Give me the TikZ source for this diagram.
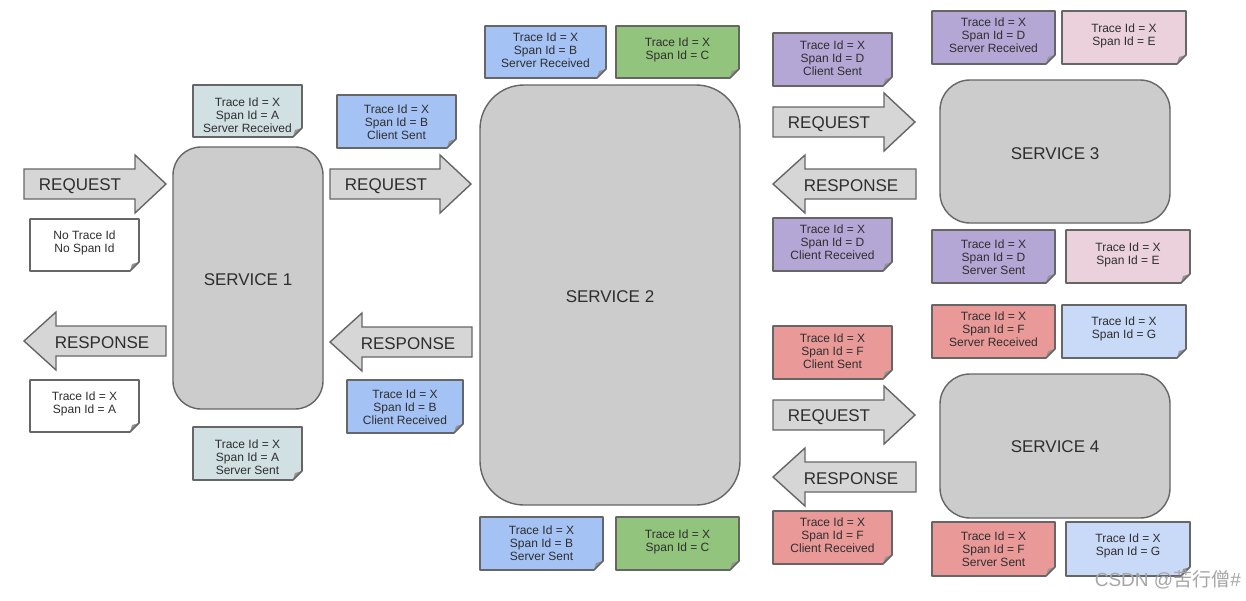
\documentclass[tikz,border=0pt]{standalone}
\usepackage{fontspec}
\setmainfont{Liberation Sans}
\newfontfamily\cjkfont{Noto Sans CJK SC}
\definecolor{cA}{HTML}{D0E0E3}
\definecolor{cB}{HTML}{A4C2F4}
\definecolor{cC}{HTML}{93C47D}
\definecolor{cD}{HTML}{B4A7D6}
\definecolor{cE}{HTML}{EAD1DC}
\definecolor{cF}{HTML}{EA9999}
\definecolor{cG}{HTML}{C9DAF8}
\definecolor{cW}{HTML}{FFFFFF}
\definecolor{svcfill}{HTML}{CCCCCC}
\definecolor{arrfill}{HTML}{D6D6D6}
\definecolor{edge}{HTML}{666666}
\definecolor{ink}{HTML}{2E2E2E}
\tikzset{
  notetext/.style={font=\fontsize{12}{13}\selectfont, text=ink, align=center, inner sep=0pt},
  noteedge/.style={draw=edge, line width=1.6pt, line join=round},
  svc/.style={draw=edge, fill=svcfill, line width=1.4pt},
  svctext/.style={font=\fontsize{17}{20}\selectfont, text=ink, inner sep=0pt},
  arr/.style={draw=edge, fill=arrfill, line width=1.4pt, line join=miter},
  arrtext/.style={font=\fontsize{17}{20}\selectfont, text=ink, inner sep=0pt},
}
% \notebox{name}{x1}{y1}{x2}{y2}{colour}{text}{yoffset}
\newcommand\notebox[8]{%
  \fill[#6] (#2,#3) -- (#4,#3) -- (#4,#5-9) -- (#4-9,#5) -- (#2,#5) -- cycle;
  \fill[edge!70] (#4,#5-9) -- (#4-9,#5) -- (#4-7,#5-7) -- cycle;
  \draw[noteedge] (#2,#3) -- (#4,#3) -- (#4,#5-9) -- (#4-9,#5) -- (#2,#5) -- cycle;
  \node[notetext] (#1) at ({(#2+#4)/2},{(#3+#5)/2+#8+2}) {#7};%
}
% \arrowR{name}{x0}{xtip}{ymid}{text}
\newcommand\arrowR[5]{%
  \draw[arr] (#2,#4-15) -- (#3-31,#4-15) -- (#3-31,#4-29) -- (#3,#4) -- (#3-31,#4+29) -- (#3-31,#4+15) -- (#2,#4+15) -- cycle;
  \node[arrtext] (#1) at (#2+56,#4+2) {#5};%
}
% \arrowL{name}{xtip}{x1}{ymid}{text}
\newcommand\arrowL[5]{%
  \draw[arr] (#3,#4-15) -- (#2+32,#4-15) -- (#2+32,#4-29) -- (#2,#4) -- (#2+32,#4+29) -- (#2+32,#4+15) -- (#3,#4+15) -- cycle;
  \node[arrtext] (#1) at (#2+78,#4+2) {#5};%
}
\begin{document}
\begin{tikzpicture}[x=1pt,y=-1pt]
\useasboundingbox (0,0) rectangle (1246,600);
\fill[white] (0,0) rectangle (1246,600);

% services
\draw[svc, rounded corners=28pt] (173,147) rectangle (323,409);
\node[svctext] (s1) at (248,280) {SERVICE 1};
\draw[svc, rounded corners=44pt] (480,85) rectangle (740,505);
\node[svctext] (s2) at (610,297) {SERVICE 2};
\draw[svc, rounded corners=30pt] (940,80) rectangle (1170,223);
\node[svctext] (s3) at (1055,154) {SERVICE 3};
\draw[svc, rounded corners=30pt] (940,374) rectangle (1170,518);
\node[svctext] (s4) at (1055,447) {SERVICE 4};

% block arrows
\arrowR{req1}{24}{166}{184}{REQUEST}
\arrowL{resp1}{24}{166}{341}{RESPONSE}
\arrowR{req2}{330}{471}{184}{REQUEST}
\arrowL{resp2}{330}{472}{342}{RESPONSE}
\arrowR{req3}{773}{915}{122}{REQUEST}
\arrowL{resp3}{773}{916}{184}{RESPONSE}
\arrowR{req4}{773}{915}{415}{REQUEST}
\arrowL{resp4}{773}{916}{477}{RESPONSE}

% notes: service 1
\notebox{nASR}{193}{85}{302}{137}{cA}{Trace Id = X\\Span Id = A\\Server Received}{2}
\notebox{nNo}{30}{219}{139}{271}{cW}{No Trace Id\\No Span Id}{-4}
\notebox{nAres}{30}{380}{139}{432}{cW}{Trace Id = X\\Span Id = A}{-4}
\notebox{nASS}{193}{427}{302}{480}{cA}{Trace Id = X\\Span Id = A\\Server Sent}{2}
% service 2
\notebox{nBCS}{337}{95}{456}{148}{cB}{Trace Id = X\\Span Id = B\\Client Sent}{-1}
\notebox{nBCR}{347}{380}{463}{433}{cB}{Trace Id = X\\Span Id = B\\Client Received}{-1}
\notebox{nBSR}{485}{26}{606}{78}{cB}{Trace Id = X\\Span Id = B\\Server Received}{-4}
\notebox{nCt}{616}{26}{739}{78}{cC}{Trace Id = X\\Span Id = C}{-4}
\notebox{nBSS}{480}{517}{603}{570}{cB}{Trace Id = X\\Span Id = B\\Server Sent}{-2}
\notebox{nCb}{616}{517}{739}{570}{cC}{Trace Id = X\\Span Id = C}{-4}
% service 3
\notebox{nDCS}{773}{33}{892}{86}{cD}{Trace Id = X\\Span Id = D\\Client Sent}{-3}
\notebox{nDSR}{932}{11}{1055}{64}{cD}{Trace Id = X\\Span Id = D\\Server Received}{-4}
\notebox{nEt}{1062}{11}{1186}{64}{cE}{Trace Id = X\\Span Id = E}{-4}
\notebox{nDCR}{773}{218}{892}{271}{cD}{Trace Id = X\\Span Id = D\\Client Received}{-4}
\notebox{nDSS}{932}{230}{1055}{283}{cD}{Trace Id = X\\Span Id = D\\Server Sent}{-1}
\notebox{nEb}{1066}{230}{1190}{283}{cE}{Trace Id = X\\Span Id = E}{-4}
% service 4
\notebox{nFSR}{932}{305}{1055}{358}{cF}{Trace Id = X\\Span Id = F\\Server Received}{-4}
\notebox{nGt}{1062}{305}{1186}{358}{cG}{Trace Id = X\\Span Id = G}{-5}
\notebox{nFCS}{773}{326}{892}{379}{cF}{Trace Id = X\\Span Id = F\\Client Sent}{-3}
\notebox{nFCR}{773}{511}{892}{564}{cF}{Trace Id = X\\Span Id = F\\Client Received}{-4}
\notebox{nFSS}{932}{522}{1055}{576}{cF}{Trace Id = X\\Span Id = F\\Server Sent}{-2}
\notebox{nGb}{1066}{522}{1190}{576}{cG}{Trace Id = X\\Span Id = G}{-5}

% watermark
\node[font=\fontsize{19}{22}\selectfont, text=black!35, anchor=east, inner sep=0pt] (wm) at (1241,580) {CSDN @{\cjkfont 苦行僧}\#};
\end{tikzpicture}
\end{document}
